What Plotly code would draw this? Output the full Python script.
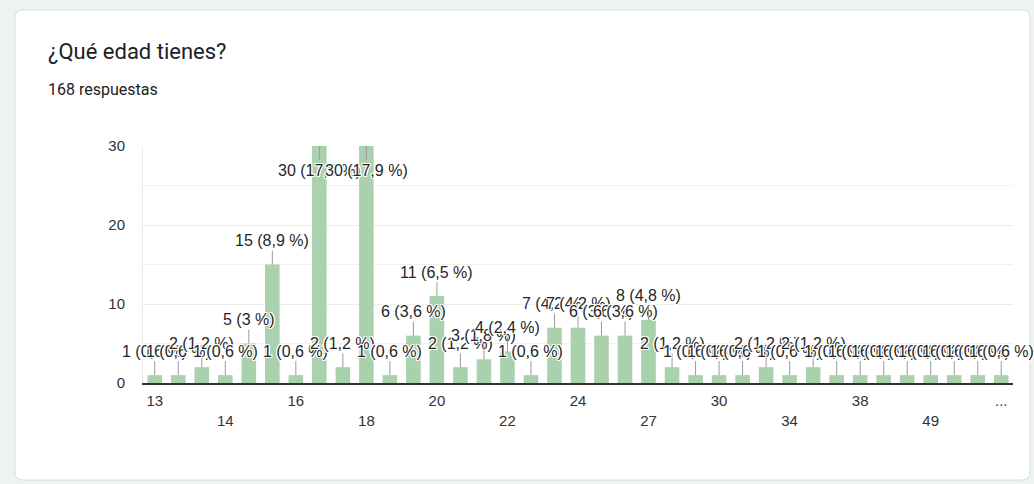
import plotly.graph_objects as go

# ---------------- data ----------------
categories = ["13", "13 años", "14 años", "14", "15 años", "15", "16", "16 años", "17",
              "18", "18 años", "19", "20", "20 años", "21", "22", "22 años", "23",
              "24", "25", "26", "27", "28", "29", "30", "31", "33", "34", "35", "36",
              "38", "40", "45", "49", "50", "52", "..."]
values = [1, 1, 2, 1, 5, 15, 1, 30, 2,
          30, 1, 6, 11, 2, 3, 4, 1, 7,
          7, 6, 6, 8, 2, 1, 1, 1, 2, 1, 2, 1,
          1, 1, 1, 1, 1, 1, 1]
shown_ticks = ["13", "14", "16", "18", "20", "22", "24", "27", "30", "34", "38", "49", "..."]
total_responses = 168
title_text = "¿Qué edad tienes?"
subtitle_text = "168 respuestas"
y_max = 30

# ---------------- geometry (pixels) ----------------
W, H = 1034, 484
PL, PR, PT, PB = 143, 1013, 146, 383
pw, ph = PR - PL, PB - PT


def px(x):
    return (x - PL) / pw


def py(y):
    return (PB - y) / ph


def fmt(v):
    p = round(v / total_responses * 100, 1)
    s = ("%.1f" % p).replace(".", ",")
    if s.endswith(",0"):
        s = s[:-2]
    return f"{v} ({s} %)"


fig = go.Figure()
fig.add_trace(go.Bar(
    x=categories, y=values,
    marker=dict(color="#a9d1ae", line=dict(width=0)),
    width=0.62, hoverinfo="skip", cliponaxis=True,
))

halo = ("1px 1px 0 #fff, -1px -1px 0 #fff, 1px -1px 0 #fff, -1px 1px 0 #fff, "
        "0 1px 0 #fff, 0 -1px 0 #fff, 1px 0 0 #fff, -1px 0 0 #fff")
annotations = []
for i, v in enumerate(values):
    inside = v > 25
    annotations.append(dict(
        x=i, y=v, xref="x", yref="y", text=fmt(v),
        showarrow=True, arrowhead=0, arrowwidth=1, arrowcolor="#9a9a9a",
        ax=0, ay=24 if inside else -24, standoff=0,
        font=dict(family="Arial, Liberation Sans", size=16, color="#262626", shadow=halo),
    ))

# title and subtitle
annotations.append(dict(x=px(46), y=py(52), xref="paper", yref="paper", text=title_text,
                        showarrow=False, xanchor="left", yanchor="middle",
                        font=dict(family="Roboto", size=22, color="#202124")))
annotations.append(dict(x=px(46), y=py(89), xref="paper", yref="paper", text=subtitle_text,
                        showarrow=False, xanchor="left", yanchor="middle",
                        font=dict(family="Roboto", size=16, color="#202124")))

# card (rounded rect)
X0, X1, Yt, Yb = px(15), px(1030), py(10), py(480)
rx, ry = 8 / pw, 8 / ph
path = (f"M {X0+rx},{Yt} L {X1-rx},{Yt} Q {X1},{Yt} {X1},{Yt-ry} "
        f"L {X1},{Yb+ry} Q {X1},{Yb} {X1-rx},{Yb} L {X0+rx},{Yb} "
        f"Q {X0},{Yb} {X0},{Yb+ry} L {X0},{Yt-ry} Q {X0},{Yt} {X0+rx},{Yt} Z")
shapes = [dict(type="path", path=path, xref="paper", yref="paper", layer="below",
               fillcolor="#ffffff", line=dict(color="#dadce0", width=1))]

ticktext = [t if i % 2 == 0 else "<br>" + t for i, t in enumerate(shown_ticks)]

fig.update_layout(
    width=W, height=H,
    margin=dict(l=PL, r=W - PR, t=PT, b=H - PB, pad=0),
    paper_bgcolor="#eef3ef", plot_bgcolor="rgba(0,0,0,0)",
    showlegend=False, bargap=0.38,
    annotations=annotations, shapes=shapes,
    xaxis=dict(type="category", categoryorder="array", categoryarray=categories,
               range=[-0.5, len(categories) - 0.5],
               tickmode="array", tickvals=shown_ticks, ticktext=ticktext,
               showgrid=False, showline=True, linecolor="#333333", linewidth=2,
               ticks="", ticklabelstandoff=3,
               tickfont=dict(family="Arial, Liberation Sans", size=15, color="#333333")),
    yaxis=dict(range=[0, y_max], tickvals=[0, 10, 20, 30], showgrid=True,
               gridcolor="#ebebeb", gridwidth=1, zeroline=False,
               showline=True, linecolor="#ebebeb", linewidth=1,
               minor=dict(tickvals=[5, 15, 25], showgrid=True, gridcolor="#f0f0f0", gridwidth=1),
               ticks="", ticklabelstandoff=14,
               tickfont=dict(family="Arial, Liberation Sans", size=15, color="#333333")),
)

fig.write_html("out.html", post_script="document.body.style.margin='0';",
               config={"displayModeBar": False})
